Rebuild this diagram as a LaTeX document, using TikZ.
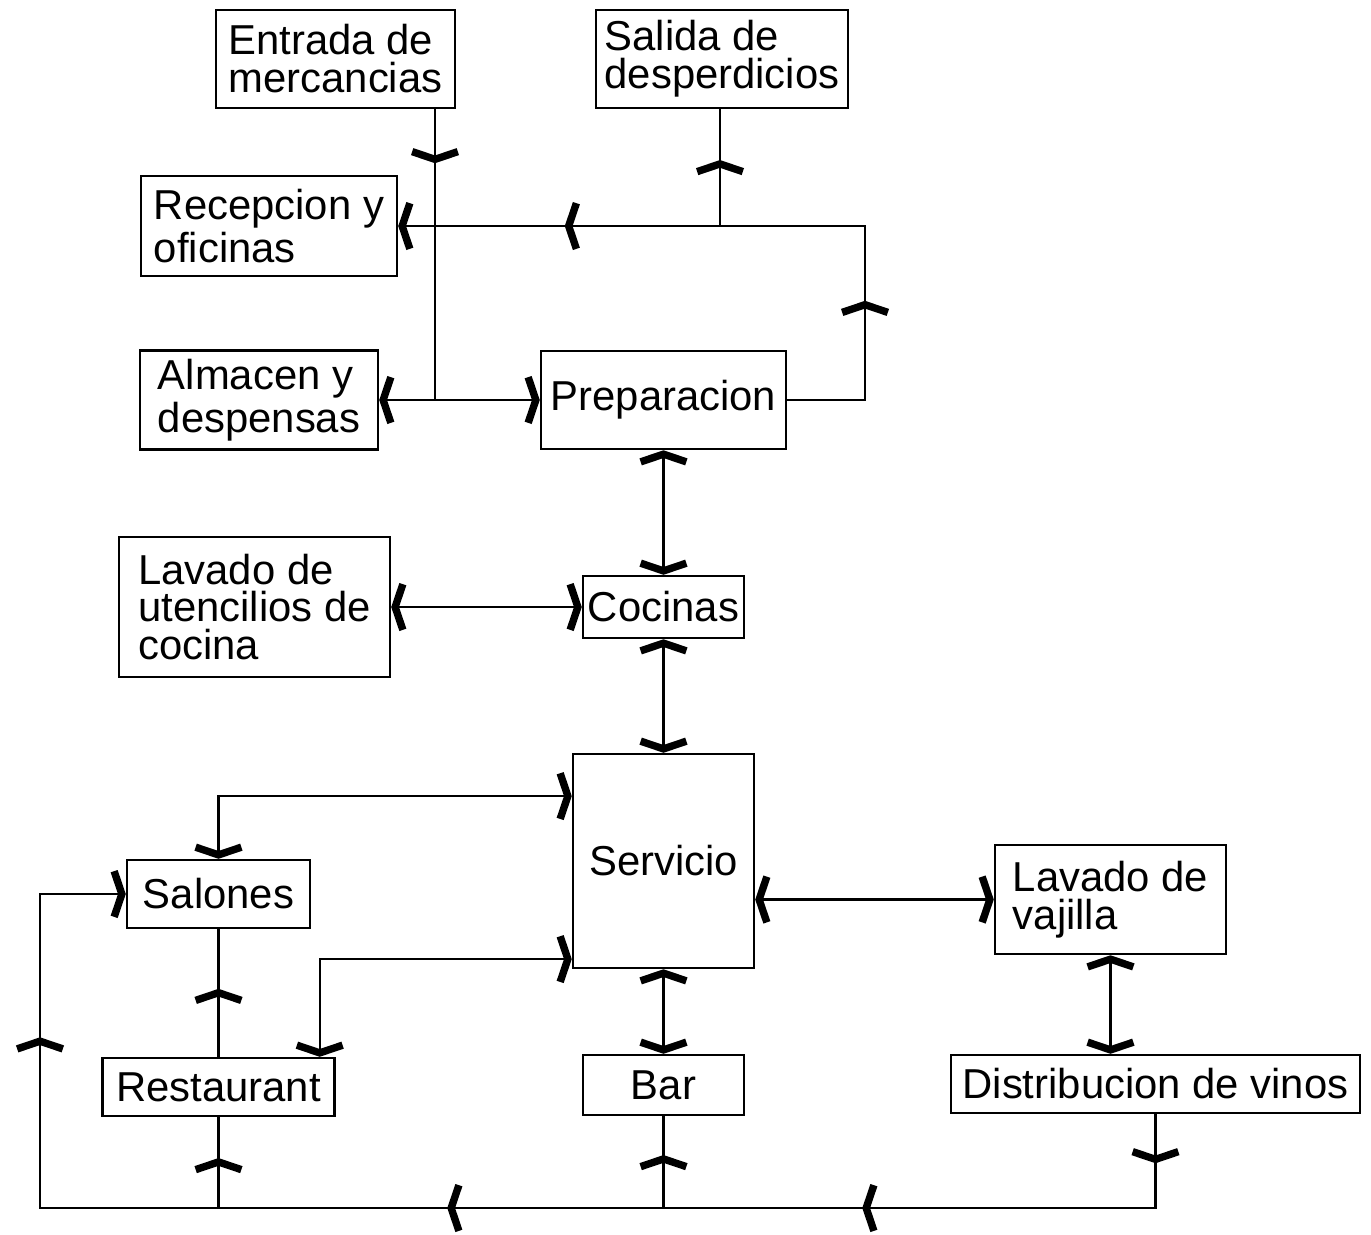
\documentclass[tikz,border=0pt]{standalone}
\usepackage{fontspec}
\setmainfont{Liberation Sans}
\usetikzlibrary{arrows.meta}
\usetikzlibrary{calc}
\usetikzlibrary{decorations.markings}

\tikzset{
  chev/.tip={Straight Barb[length=2.2pt, width=13pt, line width=2.1pt]},
  box/.style={draw, line width=0.7pt, inner sep=0pt, align=left, font=\fontsize{11.9}{10.8}\selectfont},
  link/.style={line width=0.6pt},
  flowmark/.style={postaction={decorate, decoration={markings, mark=at position #1 with {\arrow{chev}}}}}
}

\begin{document}
\begin{tikzpicture}
        \useasboundingbox (0,0) rectangle (13.71,-12.34);
        \node[box, minimum width=2.39cm, minimum height=0.98cm] (ent)  at ( 3.355, -0.59)  {Entrada de\\mercancias};
        \node[box, minimum width=2.52cm, minimum height=0.98cm] (sal)  at ( 7.220, -0.59)  {Salida de\\desperdicios};
        \node[box, minimum width=2.56cm, minimum height=1.00cm] (rec)  at ( 2.690, -2.26)  {Recepcion y\\oficinas};
        \node[box, minimum width=2.38cm, minimum height=0.99cm] (alm)  at ( 2.590, -4.00)  {Almacen y\\despensas};
        \node[box, minimum width=2.45cm, minimum height=0.98cm] (prep) at ( 6.635, -4.00)  {Preparacion};
        \node[box, minimum width=2.71cm, minimum height=1.40cm] (utn)  at ( 2.545, -6.07)  {Lavado de\\utencilios de\\cocina};
        \node[box, minimum width=1.61cm, minimum height=0.62cm] (coc)  at ( 6.635, -6.07)  {Cocinas};
        \node[box, minimum width=1.81cm, minimum height=2.14cm] (serv) at ( 6.635, -8.61)  {Servicio};
        \node[box, minimum width=1.83cm, minimum height=0.68cm] (salo) at ( 2.185, -8.94)  {Salones};
        \node[box, minimum width=2.31cm, minimum height=1.09cm] (vaj)  at (11.105, -8.995) {Lavado de\\vajilla};
        \node[box, minimum width=2.32cm, minimum height=0.58cm] (rest) at ( 2.185,-10.87)  {Restaurant};
        \node[box, minimum width=1.61cm, minimum height=0.60cm] (bar)  at ( 6.635,-10.85)  {Bar};
        \node[box, minimum width=4.09cm, minimum height=0.58cm] (dist) at (11.555,-10.84)  {Distribucion de vinos};

        \coordinate (jA) at (4.35, -4.00);
        \coordinate (kA) at (8.65, -4.00);
        \coordinate (kB) at (8.65, -2.26);
        \coordinate (sC) at (7.20, -2.26);
        \coordinate (bL) at (0.40,-12.08);

        \draw[link, chev-chev]                    (alm.east) -- (prep.west);
        \draw[link, flowmark=0.54cm]              (jA |- ent.south) -- (jA);
        \draw[link, -chev, flowmark=1.77cm, flowmark=5.52cm] (prep.east) -- (kA) -- (kB) -- (rec.east);
        \draw[link, flowmark=0.66cm]              (sC) -- (sC |- sal.south);
        \draw[link, chev-chev]                    (prep.south) -- (coc.north);
        \draw[link, chev-chev]                    (utn.east) -- (coc.west);
        \draw[link, chev-chev]                    (coc.south) -- (serv.north);
        \draw[link, chev-chev]                    ($(serv.north west)!0.2!(serv.south west)$) -| (salo.north);
        \draw[link, chev-chev]                    ($(serv.north west)!0.953!(serv.south west)$) -| ([xshift=-0.16cm]rest.north east);
        \draw[link, flowmark=0.68cm]              (rest.north) -- (salo.south);
        \draw[link, chev-chev]                    (serv.east |- vaj.west) -- (vaj.west);
        \draw[link, chev-chev]                    (vaj.south) -- (vaj.south |- dist.north);
        \draw[link, chev-chev]                    (bar.north) -- (serv.south);
        \draw[link, -chev, flowmark=0.49cm, flowmark=3.87cm, flowmark=8.02cm, flowmark=13.80cm]
                                                  (dist.south) -- (dist.south |- bL) -- (bL) |- (salo.west);
        \draw[link, flowmark=0.53cm]              (bar.south |- bL) -- (bar.south);
        \draw[link, flowmark=0.50cm]              (rest.south |- bL) -- (rest.south);
\end{tikzpicture}
\end{document}
